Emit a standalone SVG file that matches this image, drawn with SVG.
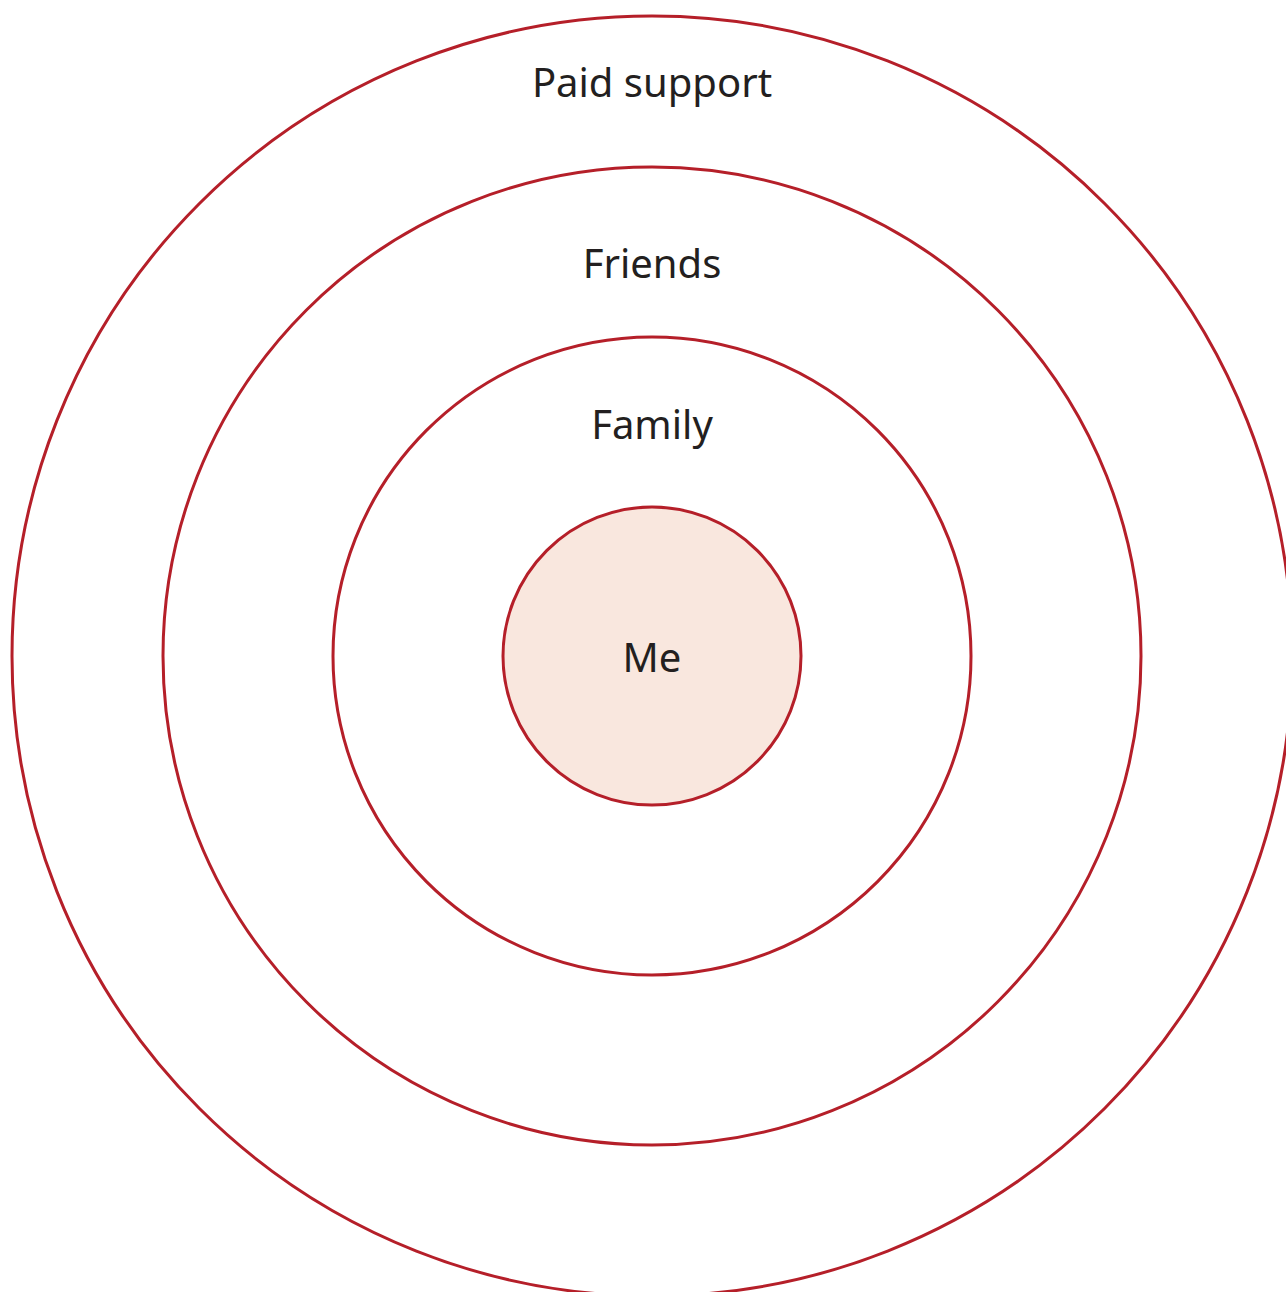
<svg xmlns="http://www.w3.org/2000/svg" width="1286" height="1292" viewBox="0 0 1286 1292">
<style>
.ring{fill:none;stroke:#B51F29;stroke-width:3}
.lbl{font-family:"Noto Sans","Open Sans",sans-serif;font-size:40px;fill:#231F20;text-anchor:middle}
</style>
<rect width="1286" height="1292" fill="#FFFFFF"/>
<g id="paid-support">
<circle class="ring" cx="652" cy="656" r="640"/>
<text class="lbl" x="652" y="97">Paid support</text>
</g>
<g id="friends">
<circle class="ring" cx="652" cy="656" r="489"/>
<text class="lbl" x="652" y="278">Friends</text>
</g>
<g id="family">
<circle class="ring" cx="652" cy="656" r="319"/>
<text class="lbl" x="652" y="439">Family</text>
</g>
<g id="me">
<circle class="ring" cx="652" cy="656" r="149" fill="#F9E7DE" style="fill:#F9E7DE"/>
<text class="lbl" x="652" y="672">Me</text>
</g>
<g id="connectors"/>
</svg>
